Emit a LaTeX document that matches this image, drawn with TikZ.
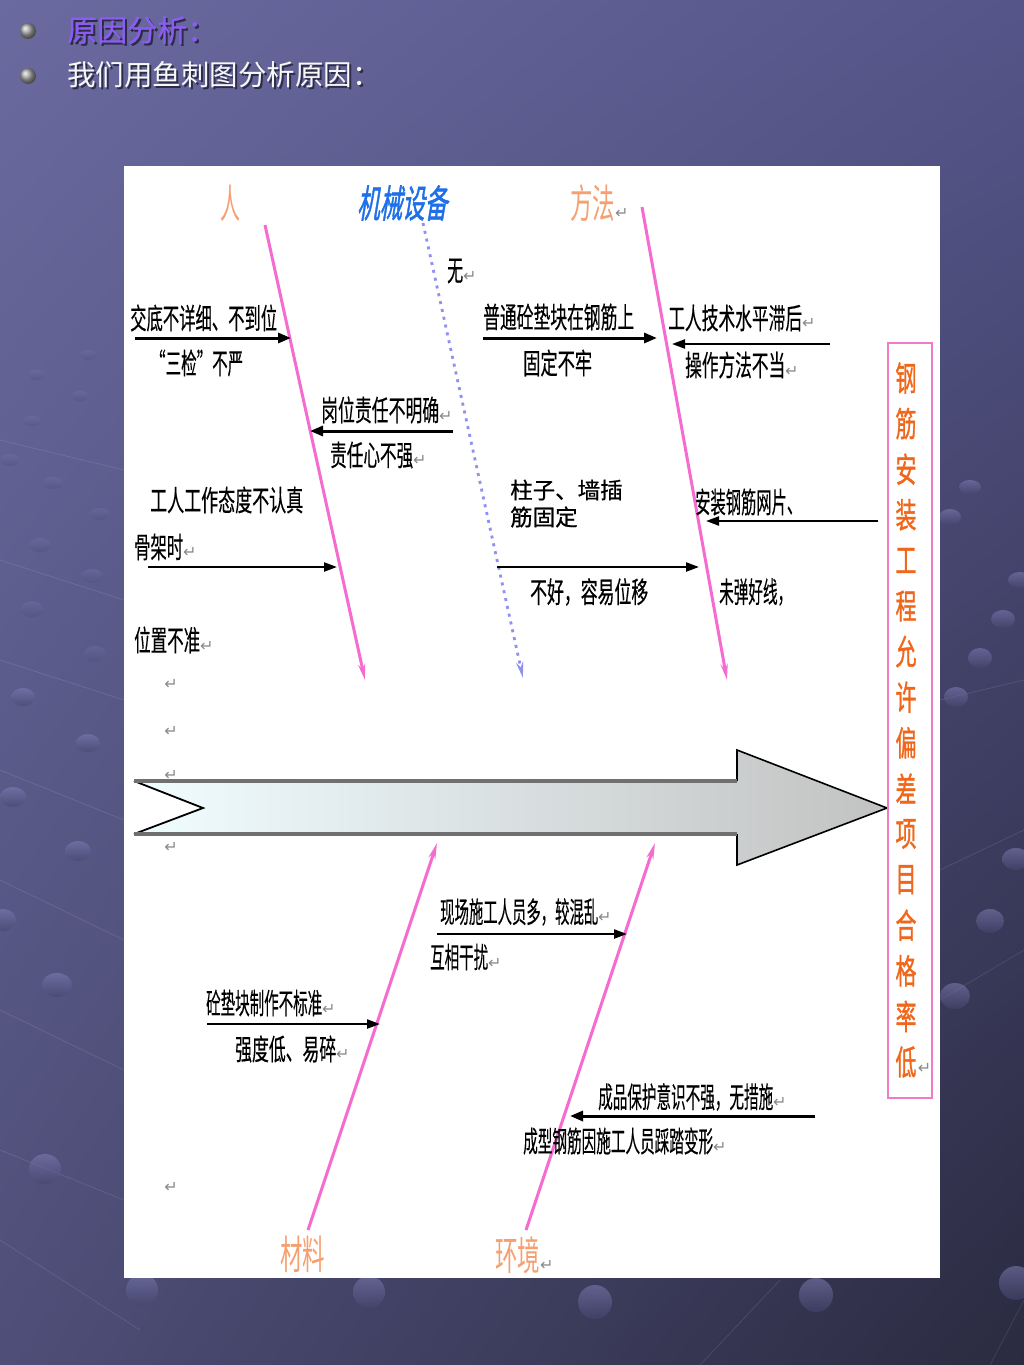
\documentclass[tikz,border=0pt]{standalone}
\usepackage{fontspec}
\usepackage{graphicx}
\newfontfamily\cjk{Noto Sans CJK SC}
\newfontfamily\cjkm[FakeBold=0.4]{Noto Sans CJK SC}
\newfontfamily\cjkb[FakeBold=0.7]{Noto Sans CJK SC}
\newfontfamily\cjkbb[FakeBold=1.2]{Noto Sans CJK SC}
\newfontfamily\cjkbi[FakeBold=1.6,FakeSlant=0.28]{Noto Sans CJK SC}
\newfontfamily\sym{DejaVu Sans}
\usetikzlibrary{arrows.meta,shadings}
\definecolor{bgA}{HTML}{6A6AA0}
\definecolor{bgB}{HTML}{55558A}
\definecolor{bgC}{HTML}{4E4E78}
\definecolor{bgD}{HTML}{2A2A40}
\definecolor{bubT}{HTML}{8080B8}
\definecolor{bubB}{HTML}{45456E}
\definecolor{pinkb}{HTML}{F56BD0}
\definecolor{bluedot}{HTML}{9090F2}
\definecolor{orc}{HTML}{F5A070}
\definecolor{boxc}{HTML}{F0661A}
\definecolor{boxb}{HTML}{F07CC8}
\definecolor{blc}{HTML}{1E6FE8}
\definecolor{titc}{HTML}{8C5CF2}
\definecolor{shad}{HTML}{2C2C48}
\definecolor{retc}{HTML}{8A8A8A}
\definecolor{spL}{HTML}{F0FDFF}
\definecolor{spR}{HTML}{C2C2C2}
\definecolor{spE}{HTML}{707070}
\newcommand\rz[2]{\resizebox{#1pt}{\height}{#2}}
\newcommand\retmark{{\sym\fontsize{16}{16}\selectfont\textcolor{retc}{↵}}}
\begin{document}
\begin{tikzpicture}[x=1pt,y=-1pt,
  lab/.style={inner sep=0pt, anchor=west, text=black, font=\cjkm\fontsize{29}{29}\selectfont},
  nlab/.style={inner sep=0pt, anchor=west, text=black, font=\cjkb\fontsize{22.5}{22.5}\selectfont},
  olab/.style={inner sep=0pt, anchor=west, text=orc, font=\cjk\fontsize{40}{40}\selectfont},
  blab/.style={inner sep=0pt, anchor=west, text=blc, font=\cjkbi\fontsize{38}{38}\selectfont},
  vch/.style={inner sep=0pt, text=boxc, font=\cjkbb\fontsize{34}{34}\selectfont},
  rm/.style={inner sep=0pt, anchor=center},
  blk/.style={draw=black, line width=3pt, -{Triangle[length=13pt,width=10pt]}},
  blkt/.style={draw=black, line width=2.2pt, -{Triangle[length=13pt,width=9pt]}},
  bone/.style={draw=pinkb, line width=3pt, -{Stealth[length=16pt,width=7pt]}},
  bub/.style={top color=bubT, bottom color=bubB, opacity=0.55},
  bubf/.style={top color=bubT, bottom color=bubB, opacity=0.25},
  fline/.style={draw=white, opacity=0.1, line width=0.8pt}
]
\useasboundingbox (0,0) rectangle (1024,1365);
% background
\shade[upper left=bgA, upper right=bgB, lower left=bgC, lower right=bgD] (0,0) rectangle (1024,1365);
\draw[fline] (0,440) -- (124,470);
\draw[fline] (0,560) -- (124,600);
\draw[fline] (0,660) -- (124,700);
\draw[fline] (0,770) -- (124,820);
\draw[fline] (0,880) -- (124,940);
\draw[fline] (0,1010) -- (124,1070);
\draw[fline] (0,1150) -- (124,1200);
\draw[fline] (0,1240) -- (140,1330);
\draw[fline] (940,870) -- (1024,830);
\draw[fline] (940,1000) -- (1024,950);
\draw[fline] (940,700) -- (1024,680);
\draw[fline] (990,1365) -- (1024,1300);
\draw[fline] (700,1365) -- (780,1280);
% bubbles
\foreach \bx/\by/\rx/\ry in {37/375/9/5, 88/355/8/5, 32/421/9/5, 80/396/9/5, 10/460/10/6, 53/483/10/6, 100/514/10/6, 40/545/11/7, 92/576/11/7, 32/609/11/8, 95/654/11/8}
  \shade[bubf] (\bx,\by) ellipse [x radius=\rx, y radius=\ry];
\foreach \bx/\by/\rx/\ry in {23/697/12/9, 88/743/12/9, 13/797/13/10, 78/851/13/10, 3/920/13/11, 57/985/15/12, 45/1169/16/15, 142/1290/16/16, 369/1292/16/16, 595/1302/17/17, 816/1295/17/17, 1016/1283/17/17, 970/487/11/7, 950/517/11/8, 1020/580/12/8, 1003/619/12/9, 980/658/12/10, 956/697/12/10, 1016/859/14/11, 990/921/14/12, 955/996/15/13}
  \shade[bub] (\bx,\by) ellipse [x radius=\rx, y radius=\ry];
% header
\shade[ball color=gray!70] (28,31) circle [radius=8];
\shade[ball color=gray!70] (28,76) circle [radius=8];
\node[inner sep=0pt, anchor=west, text=shad, font=\cjkm\fontsize{30}{30}\selectfont] (titles) at (69,32) {原因分析：};
\node[inner sep=0pt, anchor=west, text=titc, font=\cjkm\fontsize{30}{30}\selectfont] (title) at (67,30) {原因分析：};
\node[inner sep=0pt, anchor=west, text=shad, font=\cjk\fontsize{28.5}{28.5}\selectfont] (subs) at (69,77) {我们用鱼刺图分析原因：};
\node[inner sep=0pt, anchor=west, text=white!94!gray, font=\cjk\fontsize{28.5}{28.5}\selectfont] (sub) at (67,75) {我们用鱼刺图分析原因：};
% panel
\fill[white] (124,166) rectangle (940,1278);
% category labels
\node[olab] (ren) at (220,203) {\rz{20}{人}};
\node[blab] (jixie) at (357,203) {\rz{90}{机械设备}};
\node[olab] (fangfa) at (570,203) {\rz{45}{方法}\retmark};
\node[olab] (cailiao) at (280,1254) {\rz{45}{材料}};
\node[olab] (huanjing) at (495,1255) {\rz{45}{环境}\retmark};
% bones
\coordinate (p1s) at (265,225); \coordinate (p1e) at (365,680);
\coordinate (p2s) at (642,207); \coordinate (p2e) at (727,680);
\coordinate (bds) at (423,223); \coordinate (bde) at (523,678);
\coordinate (p3s) at (308,1230); \coordinate (p3e) at (437,843);
\coordinate (p4s) at (526,1230); \coordinate (p4e) at (655,843);
\draw[bone] (p1s) -- (p1e);
\draw[bone] (p2s) -- (p2e);
\draw[bone] (p3s) -- (p3e);
\draw[bone] (p4s) -- (p4e);
\draw[draw=bluedot, line width=2.8pt, dash pattern=on 3pt off 5pt, -{Stealth[length=16pt,width=7pt]}] (bds) -- (bde);
% spine (big arrow)
\coordinate (tailT) at (134,781); \coordinate (notch) at (203,808); \coordinate (tailB) at (134,834);
\coordinate (neckT) at (737,781); \coordinate (headT) at (737,750);
\coordinate (tip) at (887,808);
\coordinate (headB) at (737,865); \coordinate (neckB) at (737,834);
\shade[left color=spL, right color=spR] (tailT) -- (neckT) -- (headT) -- (tip) -- (headB) -- (neckB) -- (tailB) -- (notch) -- cycle;
\draw[black, line width=1.6pt, line join=miter] (neckT) -- (headT) -- (tip) -- (headB) -- (neckB);
\draw[black, line width=1.8pt] (tailT) -- (notch) -- (tailB);
\draw[spE, line width=4pt] (tailT) -- (neckT);
\draw[spE, line width=4pt] (tailB) -- (neckB);
% result box
\draw[boxb, line width=2.6pt] (888,343) rectangle (932,1098);
\foreach \c [count=\i from 0] in {钢,筋,安,装,工,程,允,许,偏,差,项,目,合,格,率}
  \node[vch] (v\i) at (906,{378+\i*45.6}) {\rz{21}{\c}};
\node[vch] (v15) at (906,1062) {\rz{21}{低}};
\node[rm, anchor=west] (v15r) at ([xshift=1pt,yshift=-6pt]v15.east) {\retmark};
% branch arrows
\coordinate (a1s) at (135,338); \coordinate (a1e) at (291,338);
\coordinate (a2s) at (453,431); \coordinate (a2e) at (310,431);
\coordinate (a3s) at (148,567); \coordinate (a3e) at (337,567);
\coordinate (a4s) at (483,338); \coordinate (a4e) at (657,338);
\coordinate (a5s) at (830,344); \coordinate (a5e) at (672,344);
\coordinate (a6s) at (878,521); \coordinate (a6e) at (706,521);
\coordinate (a7s) at (497,567); \coordinate (a7e) at (699,567);
\coordinate (a8s) at (437,934); \coordinate (a8e) at (627,934);
\coordinate (a9s) at (207,1024); \coordinate (a9e) at (380,1024);
\coordinate (a10s) at (815,1116); \coordinate (a10e) at (570,1116);
\draw[blk] (a1s) -- (a1e);
\draw[blk] (a2s) -- (a2e);
\draw[blkt] (a3s) -- (a3e);
\draw[blk] (a4s) -- (a4e);
\draw[blkt] (a5s) -- (a5e);
\draw[blkt] (a6s) -- (a6e);
\draw[blkt] (a7s) -- (a7e);
\draw[blkt] (a8s) -- (a8e);
\draw[blkt] (a9s) -- (a9e);
\draw[blk] (a10s) -- (a10e);
% branch labels
\node[lab] (t1) at (130,318) {\rz{147}{交底不详细、不到位}};
\node[lab] (t2) at (150,363) {\rz{93}{“三检”不严}};
\node[lab] (t3) at (321,410) {\rz{118}{岗位责任不明确}\retmark};
\node[lab] (t4) at (330,455) {\rz{83}{责任心不强}\retmark};
\node[lab] (t5) at (150,500) {\rz{153}{工人工作态度不认真}};
\node[lab] (t6) at (134,547) {\rz{49}{骨架时}\retmark};
\node[lab] (t7) at (134,640) {\rz{66}{位置不准}\retmark};
\node[lab] (t8) at (447,271) {\rz{16}{无}\retmark};
\node[lab] (t9) at (483,317) {\rz{151}{普通砼垫块在钢筋上}};
\node[lab] (t10) at (523,363) {\rz{69}{固定不牢}};
\node[lab] (t11) at (668,318) {\rz{134}{工人技术水平滞后}\retmark};
\node[lab] (t12) at (685,365) {\rz{100}{操作方法不当}\retmark};
\node[nlab] (t13a) at (510,490) {柱子、墙插};
\node[nlab] (t13b) at (510,517) {筋固定};
\node[lab] (t14) at (695,502) {\rz{107}{安装钢筋网片、}};
\node[lab] (t15) at (530,592) {\rz{118}{不好，容易位移}};
\node[lab] (t16) at (719,592) {\rz{73}{未弹好线，}};
\node[lab] (t17) at (440,912) {\rz{158}{现场施工人员多，较混乱}\retmark};
\node[lab] (t18) at (430,957) {\rz{58}{互相干扰}\retmark};
\node[lab] (t19) at (206,1003) {\rz{116}{砼垫块制作不标准}\retmark};
\node[lab] (t20) at (235,1049) {\rz{101}{强度低、易碎}\retmark};
\node[lab] (t21) at (598,1097) {\rz{175}{成品保护意识不强，无措施}\retmark};
\node[lab] (t22) at (523,1141) {\rz{190}{成型钢筋因施工人员踩踏变形}\retmark};
% stray paragraph marks
\node[rm] (r1) at (171,684) {\retmark};
\node[rm] (r2) at (171,731) {\retmark};
\node[rm] (r3) at (171,775) {\retmark};
\node[rm] (r4) at (171,847) {\retmark};
\node[rm] (r5) at (171,1187) {\retmark};
\end{tikzpicture}
\end{document}
